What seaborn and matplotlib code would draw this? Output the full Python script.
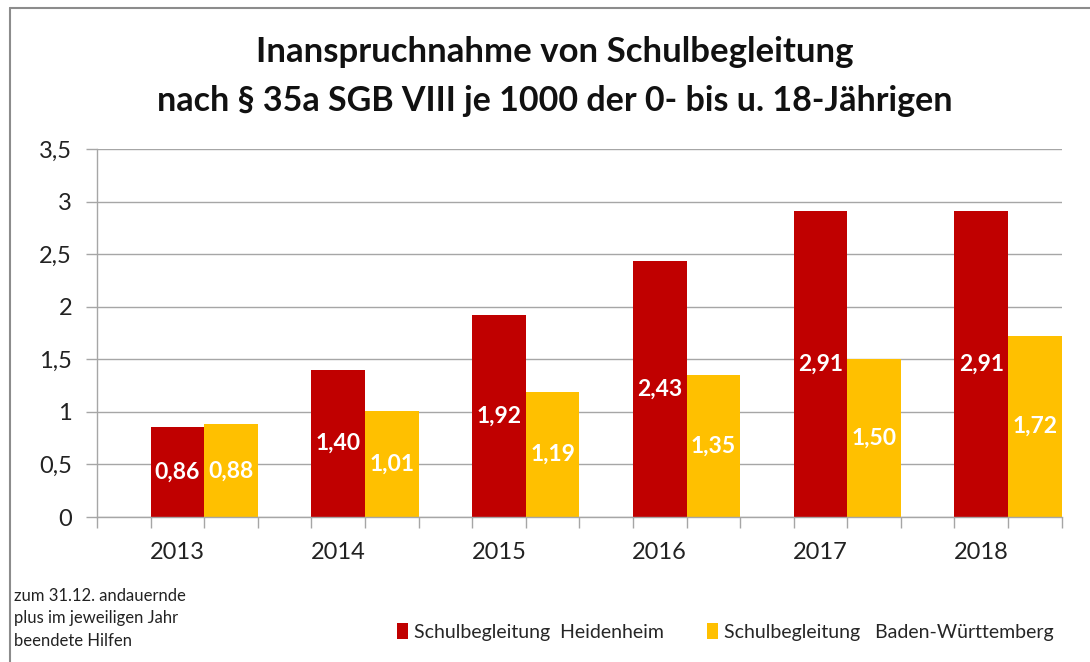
import seaborn as sns
import pandas as pd
import matplotlib.pyplot as plt
from matplotlib.ticker import FuncFormatter, MultipleLocator
from matplotlib.lines import Line2D
from matplotlib.patches import Patch

years = ['2013', '2014', '2015', '2016', '2017', '2018']
heidenheim = [0.86, 1.40, 1.92, 2.43, 2.91, 2.91]
bawue = [0.88, 1.01, 1.19, 1.35, 1.50, 1.72]
series_names = ['Schulbegleitung  Heidenheim', 'Schulbegleitung   Baden-Württemberg']
colors = ['#C00000', '#FFC000']

df = pd.DataFrame({
    'Jahr': years * 2,
    'Wert': heidenheim + bawue,
    'Reihe': [series_names[0]] * len(years) + [series_names[1]] * len(years),
})

sns.set_style('white')
plt.rcParams['font.family'] = ['Lato', 'DejaVu Sans']

fig = plt.figure(figsize=(10.9, 6.62), dpi=100)
ax = fig.add_axes([0.089, 0.219, 0.885, 0.556])

# leere erste Reihe wie im Excel-Original (Balkenpaar nach rechts versetzt)
hue_order = ['leer'] + series_names
palette = {'leer': 'white', series_names[0]: colors[0], series_names[1]: colors[1]}
sns.barplot(data=df, x='Jahr', y='Wert', hue='Reihe', hue_order=hue_order,
            palette=palette, width=1.0, saturation=1, linewidth=0, ax=ax, legend=False)

# Werte in die Balken schreiben
for cont in ax.containers:
    labels = [f'{b.get_height():.2f}'.replace('.', ',') for b in cont]
    ax.bar_label(cont, labels=labels, label_type='center', color='white',
                 fontsize=16.5, fontweight='bold')

ax.set_ylim(0, 3.5)
ax.set_xlim(-0.5, 5.5)
ax.yaxis.set_major_locator(MultipleLocator(0.5))
ax.yaxis.set_major_formatter(FuncFormatter(lambda v, p: f'{v:g}'.replace('.', ',')))
ax.grid(axis='y', color='#A6A6A6', linewidth=1)
ax.set_axisbelow(True)
ax.set_xlabel('')
ax.set_ylabel('')

for s in ['top', 'right']:
    ax.spines[s].set_visible(False)
for s in ['left', 'bottom']:
    ax.spines[s].set_color('#A6A6A6')
    ax.spines[s].set_linewidth(1)

# Teilstriche an jeder Balkengrenze
ax.xaxis.set_minor_locator(MultipleLocator(1 / 3, offset=-0.5))
ax.tick_params(axis='x', which='both', bottom=True)
ax.tick_params(axis='x', which='major', length=0, labelsize=17, pad=18, colors='#222222')
ax.tick_params(axis='x', which='minor', length=8, color='#A6A6A6', width=1)
ax.tick_params(axis='y', left=True, length=8, color='#A6A6A6', width=1, labelsize=17,
               pad=10, labelcolor='#222222')

fig.text(0.509, 0.922, 'Inanspruchnahme von Schulbegleitung', ha='center', va='center',
         fontsize=25, fontweight='bold', color='#111111')
fig.text(0.509, 0.848, 'nach § 35a SGB VIII je 1000 der 0- bis u. 18-Jährigen',
         ha='center', va='center', fontsize=24.5, fontweight='bold', color='#111111')

fig.text(0.013, 0.066, 'zum 31.12. andauernde\nplus im jeweiligen Jahr\nbeendete Hilfen',
         ha='left', va='center', fontsize=12, linespacing=1.5, color='#222222')

handles = [Patch(facecolor=c, edgecolor='none') for c in colors]
fig.legend(handles, series_names, loc='center left', bbox_to_anchor=(0.348, 0.045),
           ncol=2, frameon=False, fontsize=14, handlelength=0.55, handleheight=0.9,
           handletextpad=0.35, columnspacing=2.2)

# Rahmen des Diagramms
fig.add_artist(Line2D([0.009, 0.009], [0.0, 0.988], transform=fig.transFigure,
                      color='#8C8C8C', linewidth=1.5))
fig.add_artist(Line2D([0.009, 1.0], [0.988, 0.988], transform=fig.transFigure,
                      color='#8C8C8C', linewidth=1.5))

plt.savefig('out.png', dpi=100)
